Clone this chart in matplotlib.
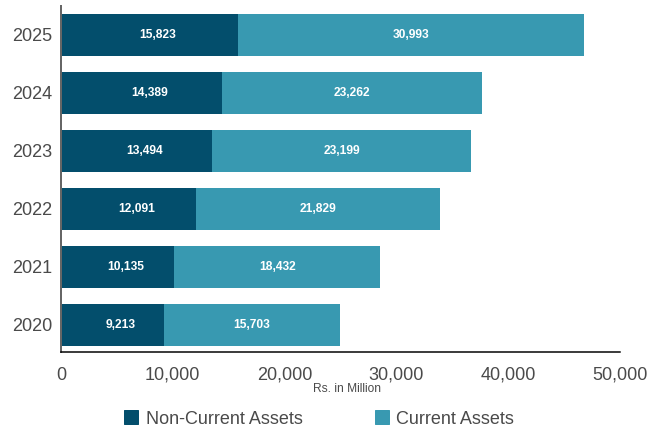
import numpy as np
from matplotlib import pyplot as plt
from matplotlib.patches import Patch

# data
years = ['2020', '2021', '2022', '2023', '2024', '2025']
non_current = [9213, 10135, 12091, 13494, 14389, 15823]
current = [15703, 18432, 21829, 23199, 23262, 30993]

c_dark = '#034e6c'
c_light = '#3899b1'
grey = '#4a4a4a'

plt.rcParams['font.family'] = ['Liberation Sans', 'DejaVu Sans']

fig = plt.figure(figsize=(9, 6), dpi=72)
ax = fig.add_axes([61/648, 80/432, 559/648, 346/432])

y = np.arange(len(years))
nc = np.array(non_current)
cu = np.array(current)
ax.barh(y, nc, height=0.72, color=c_dark)
ax.barh(y, cu, left=nc, height=0.72, color=c_light)

lab_font = dict(fontsize=12, fontweight='bold', color='white',
                ha='center', va='center')
for i in range(len(years)):
    ax.text(nc[i] / 2 + 700, y[i], f'{nc[i]:,}', **lab_font)
    ax.text(nc[i] + cu[i] / 2, y[i], f'{cu[i]:,}', **lab_font)

ax.set_xlim(0, 50000)
ax.set_ylim(-0.47, 5.5)
ax.set_xticks([0, 10000, 20000, 30000, 40000, 50000])
ax.set_xticklabels(['0', '10,000', '20,000', '30,000', '40,000', '50,000'])
ax.set_yticks(y)
ax.set_yticklabels(years)
ax.tick_params(axis='both', length=0, labelsize=18, labelcolor=grey)
ax.tick_params(axis='x', pad=15)
ax.tick_params(axis='y', pad=9)

for s in ['top', 'right']:
    ax.spines[s].set_visible(False)
ax.spines['left'].set_color('#666666')
ax.spines['left'].set_linewidth(2)
ax.spines['bottom'].set_color('black')
ax.spines['bottom'].set_linewidth(1.5)

fig.text(347/648, 1 - 389/432, 'Rs. in Million', fontsize=12, color=grey,
         ha='center', va='center')

handles = [Patch(color=c_dark, label='Non-Current Assets'),
           Patch(color=c_light, label='Current Assets')]
fig.legend(handles=handles, loc='center', bbox_to_anchor=(319/648, 1 - 419/432),
           ncol=2, frameon=False, fontsize=18, labelcolor=grey,
           handlelength=0.8, handleheight=0.8, handletextpad=0.4, columnspacing=4.0)

fig.savefig('out.png', dpi=72)
